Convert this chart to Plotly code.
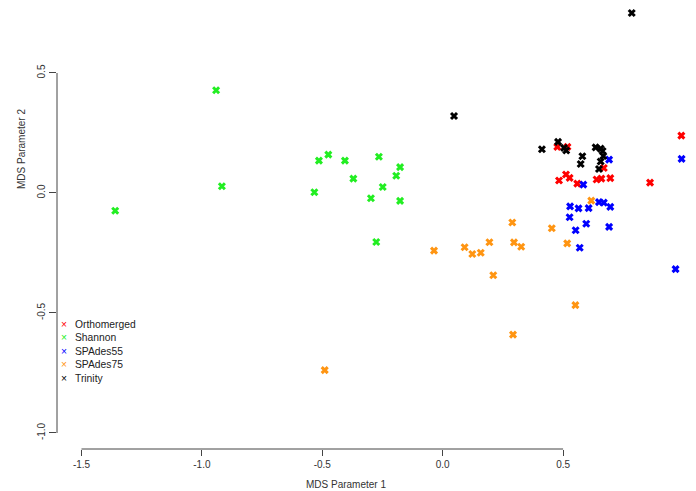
import plotly.graph_objects as go

# ---- data (MDS coordinates) ----
series_names = ["Orthomerged", "Shannon", "SPAdes55", "SPAdes75", "Trinity"]
series_colors = ["#FF0000", "#22EE22", "#0000FF", "#FF9512", "#000000"]

ortho_x = [0.476, 0.518, 0.483, 0.512, 0.527, 0.559, 0.639, 0.659, 0.696, 0.669, 0.991, 1.064, 0.861]
ortho_y = [0.192, 0.192, 0.052, 0.077, 0.063, 0.039, 0.056, 0.060, 0.062, 0.104, 0.239, 0.096, 0.043]

shannon_x = [-0.941, -0.917, -1.360, -0.514, -0.475, -0.406, -0.265, -0.177, -0.193, -0.371, -0.249, -0.533, -0.298, -0.177, -0.276]
shannon_y = [0.428, 0.028, -0.074, 0.135, 0.160, 0.135, 0.151, 0.108, 0.072, 0.060, 0.025, 0.003, -0.022, -0.033, -0.204]

spades55_x = [0.691, 0.584, 0.529, 0.564, 0.606, 0.649, 0.669, 0.696, 0.527, 0.596, 0.552, 0.691, 0.569, 0.992, 0.967]
spades55_y = [0.139, 0.035, -0.056, -0.064, -0.063, -0.038, -0.040, -0.058, -0.101, -0.128, -0.155, -0.141, -0.228, 0.142, -0.317]

spades75_x = [-0.036, 0.091, 0.123, 0.158, 0.194, 0.289, 0.296, 0.326, 0.210, 0.453, 0.517, 0.551, 0.292, -0.490, 0.617]
spades75_y = [-0.240, -0.226, -0.254, -0.249, -0.205, -0.123, -0.206, -0.224, -0.343, -0.147, -0.210, -0.467, -0.590, -0.738, -0.032]

trinity_x = [0.785, 0.047, 0.412, 0.479, 0.504, 0.513, 0.635, 0.656, 0.664, 0.667, 0.656, 0.649, 0.580, 0.573, 1.052]
trinity_y = [0.750, 0.321, 0.182, 0.213, 0.188, 0.177, 0.190, 0.185, 0.175, 0.154, 0.131, 0.100, 0.153, 0.121, 0.079]

xs = [ortho_x, shannon_x, spades55_x, spades75_x, trinity_x]
ys = [ortho_y, shannon_y, spades55_y, spades75_y, trinity_y]

x_ticks = [-1.5, -1.0, -0.5, 0.0, 0.5]
x_tick_labels = ["-1.5", "-1.0", "-0.5", "0.0", "0.5"]
y_ticks = [-1.0, -0.5, 0.0, 0.5]
y_tick_labels = ["-1.0", "-0.5", "0.0", "0.5"]

# ---- layout geometry ----
W, H = 696, 491
ML, MR, MT, MB = 49, 0, 0, 50
XR = [-1.6017, 1.0851]
YR = [-1.0667, 0.7708]
PW, PH = W - ML - MR, H - MT - MB

def px_to_paper_x(px):
    return (px - ML) / PW

def px_to_paper_y(py):
    return (H - MB - py) / PH

def data_to_paper_x(v):
    return (v - XR[0]) / (XR[1] - XR[0])

def data_to_paper_y(v):
    return (v - YR[0]) / (YR[1] - YR[0])

FONT = "Liberation Sans, Arial, Helvetica, sans-serif"
AXIS_COLOR = "#444444"
TXT = "#333333"
FS = 10

fig = go.Figure()
for name, col, x, y in zip(series_names, series_colors, xs, ys):
    fig.add_trace(go.Scatter(
        x=x, y=y, mode="markers", name=name, showlegend=False,
        marker=dict(symbol="x-thin", size=6, color=col, line=dict(width=3, color=col)),
        cliponaxis=False,
    ))

shapes = [
    dict(type="line", xref="paper", yref="paper",
         x0=data_to_paper_x(x_ticks[0]), x1=data_to_paper_x(x_ticks[-1]), y0=0, y1=0,
         line=dict(color=AXIS_COLOR, width=1)),
    dict(type="line", xref="paper", yref="paper",
         x0=0, x1=0, y0=data_to_paper_y(y_ticks[0]), y1=data_to_paper_y(y_ticks[-1]),
         line=dict(color=AXIS_COLOR, width=1)),
]

annotations = [
    dict(text="MDS Parameter 1", xref="paper", yref="paper",
         x=px_to_paper_x(338), y=px_to_paper_y(476), showarrow=False,
         font=dict(family=FONT, size=FS, color=TXT), xanchor="center", yanchor="middle"),
    dict(text="MDS Parameter 2", xref="paper", yref="paper",
         x=px_to_paper_x(13), y=px_to_paper_y(141), showarrow=False, textangle=-90,
         font=dict(family=FONT, size=FS, color=TXT), xanchor="center", yanchor="middle"),
]

# legend drawn as text (R style): one block of colored crosses, one block of names
LFS = 10.3
marks = "<br>".join(f"<span style='color:{c}'>×</span>" for c in series_colors)
names = "<br>".join(series_names)
top_row, bot_row = 316.7, 370.0
mid = (top_row + bot_row) / 2
annotations.append(dict(text=marks, xref="paper", yref="paper",
                        x=px_to_paper_x(56), y=px_to_paper_y(mid), showarrow=False,
                        font=dict(family=FONT, size=LFS, color="#000000"), align="center",
                        xanchor="center", yanchor="middle", borderpad=0))
annotations.append(dict(text=names, xref="paper", yref="paper",
                        x=px_to_paper_x(66), y=px_to_paper_y(mid), showarrow=False,
                        font=dict(family=FONT, size=LFS, color="#222222"), align="left",
                        xanchor="left", yanchor="middle", borderpad=0))

fig.update_layout(
    width=W, height=H,
    margin=dict(l=ML, r=MR, t=MT, b=MB, pad=0),
    paper_bgcolor="white", plot_bgcolor="white",
    font=dict(family=FONT, size=FS, color=TXT),
    xaxis=dict(range=XR, showgrid=False, zeroline=False, showline=False,
               tickmode="array", tickvals=x_ticks, ticktext=x_tick_labels,
               ticks="outside", ticklen=6, tickwidth=1, tickcolor=AXIS_COLOR,
               tickfont=dict(family=FONT, size=FS, color=TXT)),
    yaxis=dict(range=YR, showgrid=False, zeroline=False, showline=False,
               tickmode="array", tickvals=y_ticks, ticktext=y_tick_labels,
               ticks="outside", ticklen=7, tickwidth=1, tickcolor=AXIS_COLOR, tickangle=-90,
               tickfont=dict(family=FONT, size=FS, color=TXT)),
    shapes=shapes, annotations=annotations,
)

fig.write_html("out.html")
